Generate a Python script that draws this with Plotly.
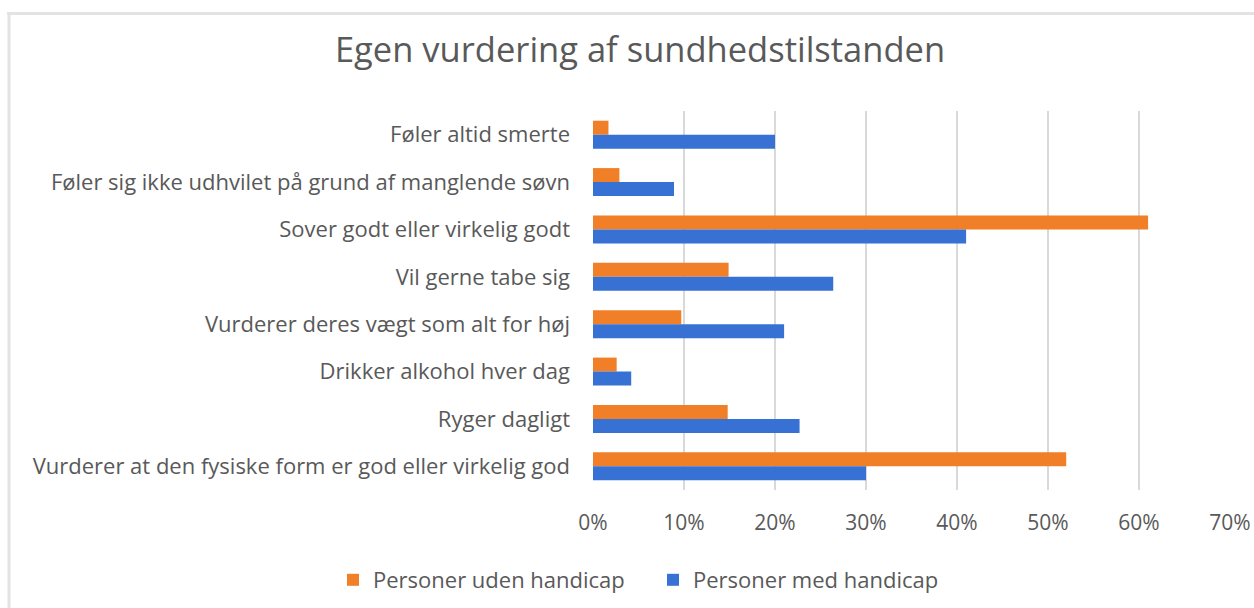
import plotly.graph_objects as go

categories = [
    "Føler altid smerte",
    "Føler sig ikke udhvilet på grund af manglende søvn",
    "Sover godt eller virkelig godt",
    "Vil gerne tabe sig",
    "Vurderer deres vægt som alt for høj",
    "Drikker alkohol hver dag",
    "Ryger dagligt",
    "Vurderer at den fysiske form er god eller virkelig god",
]
uden_handicap = [0.017, 0.029, 0.610, 0.149, 0.097, 0.026, 0.148, 0.520]
med_handicap = [0.200, 0.089, 0.410, 0.264, 0.210, 0.042, 0.227, 0.300]
series_names = ["Personer uden handicap", "Personer med handicap"]
tick_vals = [0, 0.1, 0.2, 0.3, 0.4, 0.5, 0.6, 0.7]
tick_text = ["0%", "10%", "20%", "30%", "40%", "50%", "60%", "70%"]
title_text = "Egen vurdering af sundhedstilstanden"

W, H = 1254, 608
L, R, T, B = 593, 24, 111, 118
pw, ph = W - L - R, H - T - B

def px(x):
    return (x - L) / pw

def py(y):
    return (H - B - y) / ph

FONT = "Open Sans"
GRAY = "#595959"

fig = go.Figure()
fig.add_trace(go.Bar(y=categories, x=uden_handicap, name=series_names[0], orientation="h",
                     marker=dict(color="#F07F27", line=dict(width=0))))
fig.add_trace(go.Bar(y=categories, x=med_handicap, name=series_names[1], orientation="h",
                     marker=dict(color="#3771D3", line=dict(width=0))))

fig.update_layout(
    width=W, height=H,
    margin=dict(l=L, r=R, t=T, b=B, autoexpand=False),
    paper_bgcolor="white", plot_bgcolor="white",
    barmode="group", bargap=0.41, bargroupgap=0,
    font=dict(family=FONT, color=GRAY, size=21),
    title=dict(text=title_text, x=px(640), xref="paper", xanchor="center",
               y=1 - 50 / H, yanchor="middle",
               font=dict(family=FONT, size=34.5, color=GRAY)),
    xaxis=dict(range=[0, 0.7], tickvals=tick_vals, ticktext=tick_text,
               showgrid=True, gridcolor="#D9D9D9", gridwidth=2,
               zeroline=False, showline=False, ticks="", ticklabelstandoff=18,
               tickfont=dict(size=21, color=GRAY), fixedrange=True),
    yaxis=dict(autorange="reversed", showgrid=False, zeroline=False,
               ticks="", ticklabelstandoff=22,
               tickfont=dict(size=22, color=GRAY), fixedrange=True),
    legend=dict(orientation="h", xref="paper", x=px(333), xanchor="left",
                y=py(580), yanchor="middle",
                font=dict(size=22, color=GRAY), traceorder="normal",
                entrywidthmode="pixels", entrywidth=275),
    showlegend=True,
)

# chart frame (top and left edges)
fig.add_shape(type="line", xref="paper", yref="paper",
              x0=px(7), x1=px(1260), y0=py(13.5), y1=py(13.5),
              line=dict(color="#E3E3E3", width=3))
fig.add_shape(type="line", xref="paper", yref="paper",
              x0=px(9), x1=px(9), y0=py(13.5), y1=py(620),
              line=dict(color="#E3E3E3", width=3))

fig.write_html("out.html", config={"displayModeBar": False},
               post_script="document.body.style.margin='0';")
